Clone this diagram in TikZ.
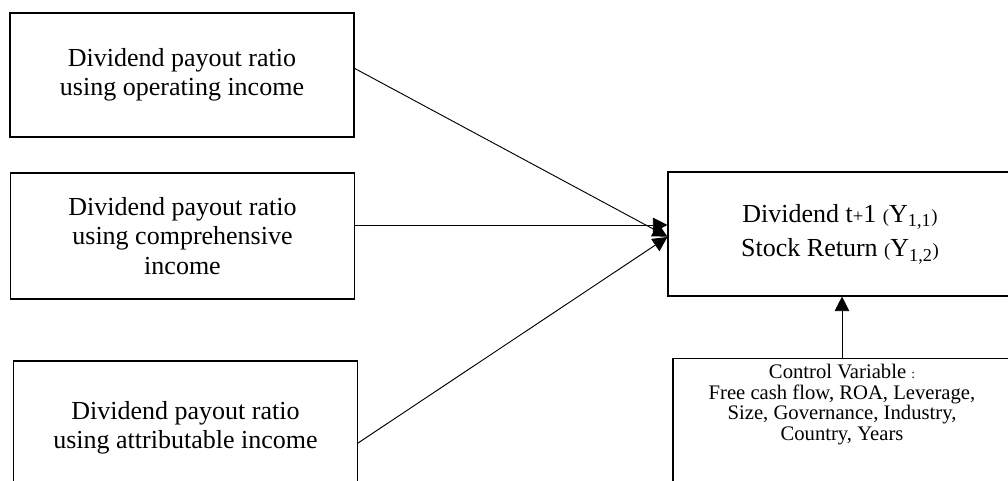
\documentclass[tikz,border=0pt]{standalone}
\usepackage{fontspec}
\setmainfont{Liberation Serif}
\usetikzlibrary{arrows.meta}

\newcommand{\smallsym}[1]{{\fontsize{14}{14}\selectfont #1}}

\begin{document}
\begin{tikzpicture}[
  x=0.75pt, y=-0.75pt,
  font=\fontsize{19.5}{22}\selectfont,
  box/.style={rectangle, draw=black, line width=0.8pt, minimum width=258pt,
              minimum height=93pt, inner sep=2pt, align=center},
  outbox/.style={box, font=\fontsize{19.5}{26}\selectfont},
  ctrlbox/.style={box, anchor=north, minimum width=253.5pt, minimum height=0pt,
                  inner ysep=4pt, text depth=70pt, font=\fontsize{15.5}{15.6}\selectfont},
  link/.style={-{Triangle[length=11pt,width=11pt]}, draw=black, line width=0.7pt}
]
\useasboundingbox (0,0) rectangle (1008,480);
\clip (0,0) rectangle (1008,480);

\node[box] (opinc)   at (182, 75)   {Dividend payout ratio \\ using operating income};
\node[box, minimum height=94.5pt] (compinc) at (182.5, 236) {Dividend payout ratio \\ using comprehensive \\ income};
\node[box, minimum height=100.5pt] (attinc) at (185.5, 428) {Dividend payout ratio \\ using attributable income};
\node[outbox] (out)  at (840, 234)  {Dividend t\smallsym{+}1 \smallsym{(}Y\textsubscript{1,1}\smallsym{)} \\
                                      Stock Return \smallsym{(}Y\textsubscript{1,2}\smallsym{)}};
\node[ctrlbox] (ctrl) at (842, 358) {Control Variable {\fontsize{10}{10}\selectfont :} \\
                                      Free cash flow, ROA, Leverage, \\
                                      Size, Governance, Industry, \\
                                      Country, Years};

\draw[link] ([yshift=5pt]opinc.east) -- ([yshift=-2pt]out.west);
\draw[link] ([yshift=8.25pt]compinc.east) -- ([yshift=6.75pt]out.west);
\draw[link] ([yshift=-11.25pt]attinc.east) -- ([yshift=-2.25pt]out.west);
\draw[link] (ctrl.north) -- (ctrl.north |- out.south);
\end{tikzpicture}
\end{document}
